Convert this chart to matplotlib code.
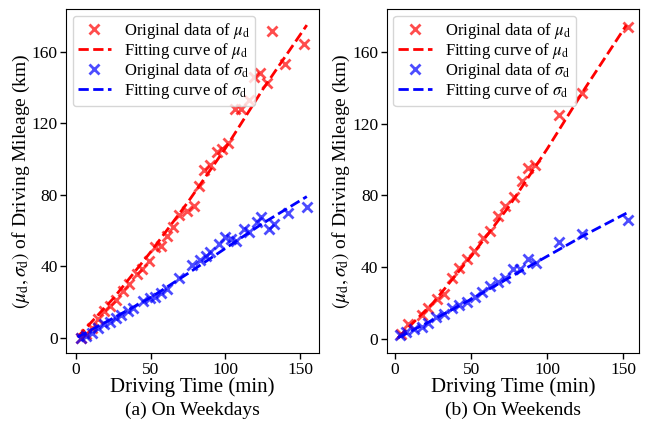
import numpy as np
import matplotlib
matplotlib.use('Agg')
import matplotlib.pyplot as plt

plt.rcParams['font.family'] = ['Liberation Serif', 'DejaVu Serif']
plt.rcParams['mathtext.fontset'] = 'stix'

# weekdays, original data
wd_mu_t = [3.3, 6.7, 10.5, 15, 19, 23, 27, 31.5, 35.5, 41, 44.5, 49, 53, 57, 61, 65, 69, 74, 79,
           82, 86, 89.8, 94.2, 98, 102, 106.4, 110.2, 115.8, 119.3, 122.9, 127.6, 131.3, 139.8, 152.4]
wd_mu_v = [0, 1.8, 5.3, 10.5, 14.7, 18, 21, 26, 29.8, 35.5, 38.3, 43, 50.6, 51.5, 57, 62, 68.5, 71, 74,
           85, 94, 96.4, 104.2, 105.5, 109, 128, 128, 133, 145.8, 148.4, 142.8, 171.8, 153, 164.5]
wd_sd_t = [3.3, 6.7, 10.5, 14.6, 19, 22.5, 27, 30, 35, 38, 45, 49.5, 53, 57, 60.7, 68.7, 77.6,
           83.3, 86.7, 90, 95.7, 100, 104, 107, 112.5, 116, 121, 123.8, 129, 132.7, 141.8, 154.7]
wd_sd_v = [0, 1.1, 2.4, 5.3, 7.5, 8.6, 11.3, 12.9, 15, 16.6, 20.4, 22.3, 23, 25.2, 27, 33.6, 40.8,
           43.6, 45.9, 47.8, 52.6, 56.6, 55.4, 54.4, 61, 59, 65, 67.7, 61, 63.8, 70, 73.3]
# weekdays, fitting curves
wd_fit_t = [1, 25, 50, 75, 100, 125, 154.5]
wd_fit_mu = [0.3, 22, 48, 76, 106, 139, 175]
wd_fit_sd = [0.3, 11, 22.5, 36, 50, 64, 79]

# weekends, original data
we_mu_t = [4, 8.5, 17.4, 21.9, 27.5, 32, 37.4, 42, 47.3, 52.1, 57.5, 62.2, 67.7, 72.2, 77.8,
           83.1, 87.2, 91.7, 108, 122.5, 152.9]
we_mu_v = [2.8, 8.4, 13, 16.8, 22.3, 24.8, 34, 39.2, 44.7, 48.9, 56, 60, 68.3, 73.9, 79.3,
           87.7, 95.3, 96.8, 124.6, 137.2, 173.7]
we_sd_t = [3, 7.4, 12.5, 17.4, 21.9, 27.1, 32, 37.2, 42, 47, 52.8, 57.3, 62.2, 67.7, 72.2,
           77.4, 82.3, 87.2, 92.3, 107.6, 123, 152.9]
we_sd_v = [1.8, 3.7, 5.6, 6.5, 8.7, 12.1, 14, 17.1, 19, 20.4, 23.2, 26, 29.5, 31.6, 33.8,
           39.1, 38.8, 44.7, 42.1, 54, 58.3, 66.1]
# weekends, fitting curves
we_fit_t = [2, 25, 50, 75, 100, 125, 152]
we_fit_mu = [0.5, 20, 46, 74, 106, 140, 175]
we_fit_sd = [0.5, 10.5, 22, 34, 46, 58, 70]

panels = [
    (wd_mu_t, wd_mu_v, wd_sd_t, wd_sd_v, wd_fit_t, wd_fit_mu, wd_fit_sd, '(a) On Weekdays'),
    (we_mu_t, we_mu_v, we_sd_t, we_sd_v, we_fit_t, we_fit_mu, we_fit_sd, '(b) On Weekends'),
]

fig = plt.figure(figsize=(6.51, 4.24), dpi=100)
lefts = [0.1014, 0.594]
for (mt, mv, st, sv, ft, fmu, fsd, title), left in zip(panels, lefts):
    ax = fig.add_axes([left, 0.1667, 0.388, 0.811])
    ax.plot(mt, mv, 'x', color='red', alpha=0.7, ms=6.5, mew=2,
            label=r'Original data of $\mu_{\rm d}$')
    ax.plot(ft, fmu, '--', color='red', lw=2, label=r'Fitting curve of $\mu_{\rm d}$')
    ax.plot(st, sv, 'x', color='blue', alpha=0.7, ms=6.5, mew=2,
            label=r'Original data of $\sigma_{\rm d}$')
    ax.plot(ft, fsd, '--', color='blue', lw=2, label=r'Fitting curve of $\sigma_{\rm d}$')
    ax.set_xticks([0, 50, 100, 150])
    ax.set_yticks([0, 40, 80, 120, 160])
    ax.tick_params(labelsize=12.5, direction='out', length=4, width=1, pad=2)
    ax.set_xlabel('Driving Time (min)', fontsize=15, labelpad=0)
    ax.set_ylabel(r'$(\mu_{\rm d}, \sigma_{\rm d})$ of Driving Mileage (km)', fontsize=14, labelpad=0)
    ax.legend(loc='upper left', fontsize=12, numpoints=1, handlelength=2.0,
              borderaxespad=0.4, labelspacing=0.0, handletextpad=0.8, borderpad=0.3)
    fig.text(left + 0.194, 0.033, title, ha='center', va='center', fontsize=14)

plt.savefig('out.png', dpi=100)
